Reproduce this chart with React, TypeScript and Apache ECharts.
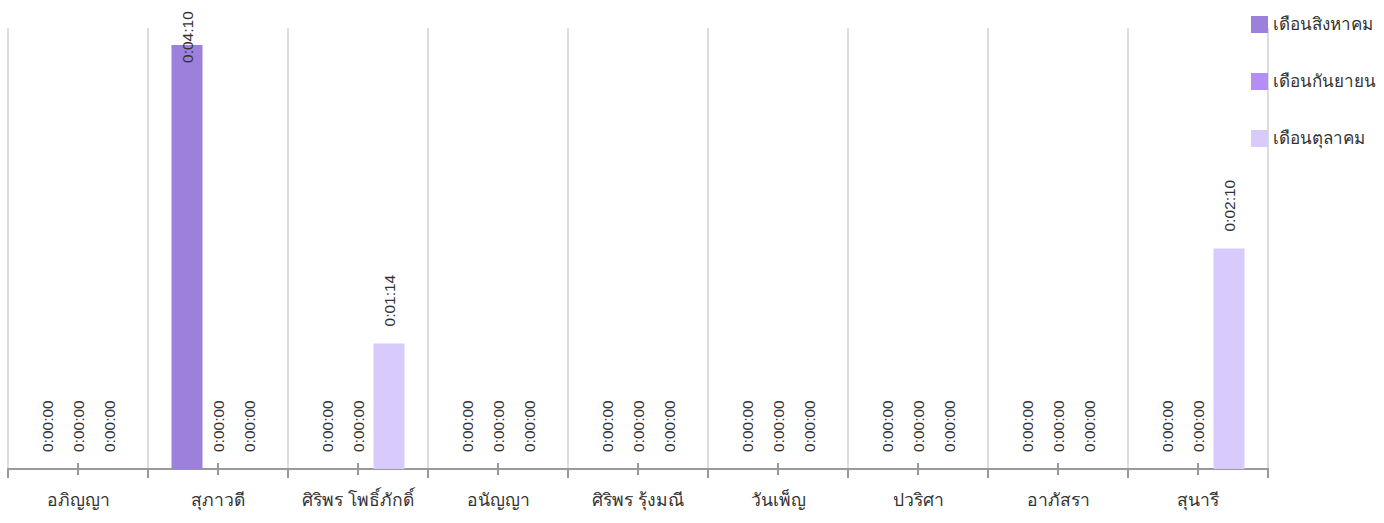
import React, { useEffect, useRef } from "react";
import * as echarts from "echarts";

const categories = [
  "อภิญญา",
  "สุภาวดี",
  "ศิริพร โพธิ์ภักดิ์",
  "อนัญญา",
  "ศิริพร รุ้งมณี",
  "วันเพ็ญ",
  "ปวริศา",
  "อาภัสรา",
  "สุนารี",
];

const seriesNames = ["เดือนสิงหาคม", "เดือนกันยายน", "เดือนตุลาคม"];
// values in seconds
const augustValues = [0, 250, 0, 0, 0, 0, 0, 0, 0];
const septemberValues = [0, 0, 0, 0, 0, 0, 0, 0, 0];
const octoberValues = [0, 0, 74, 0, 0, 0, 0, 0, 130];
const colors = ["#9c80dc", "#b48ef6", "#d9cafc"];
const yMax = 260;

function fmt(sec: number): string {
  const h = Math.floor(sec / 3600);
  const m = Math.floor((sec % 3600) / 60);
  const s = Math.floor(sec % 60);
  return `${h}:${String(m).padStart(2, "0")}:${String(s).padStart(2, "0")}`;
}

const FONT = "'Liberation Sans', Arial, 'DejaVu Sans', sans-serif";

export default function App() {
  const ref = useRef<HTMLDivElement>(null);
  useEffect(() => {
    if (!ref.current) return;
    const chart = echarts.init(ref.current, undefined, { renderer: "svg" });
    const allValues = [augustValues, septemberValues, octoberValues];
    const series = allValues.map((vals, i) => ({
      name: seriesNames[i],
      type: "bar",
      xAxisIndex: 0,
      barWidth: 31,
      barGap: "0%",
      itemStyle: { color: colors[i] },
      label: {
        show: true,
        position: "top",
        distance: 17,
        rotate: 90,
        align: "left",
        verticalAlign: "middle",
        fontSize: 15.5,
        fontFamily: FONT,
        color: "#333",
        formatter: (p: any) => fmt(p.value),
      },
      data: vals.map((v) =>
        v > yMax * 0.85
          ? { value: v, label: { position: "insideTop", distance: 18 } }
          : v
      ),
    }));
    chart.setOption({
      animation: false,
      color: colors,
      textStyle: { fontFamily: FONT },
      legend: {
        orient: "vertical",
        left: 1251,
        top: 16,
        padding: 0,
        icon: "rect",
        itemWidth: 17,
        itemHeight: 17,
        itemGap: 40,
        textStyle: { fontSize: 17, color: "#333", fontFamily: FONT },
        data: seriesNames,
      },
      grid: { left: 8, right: 116, top: 28, bottom: 54, containLabel: false },
      xAxis: [
        {
          type: "category",
          data: categories,
          axisLine: { lineStyle: { color: "#999", width: 2 } },
          axisTick: { show: true, interval: 0, length: 9, lineStyle: { color: "#999", width: 2 } },
          splitLine: { show: true, interval: 0, lineStyle: { color: "#dcdcdc", width: 2 } },
          axisLabel: { interval: 0, fontSize: 17.5, color: "#333", margin: 22, fontFamily: FONT },
        },
        {
          type: "category",
          data: categories,
          position: "bottom",
          offset: -6,
          axisLine: { show: false },
          axisTick: {
            show: true,
            interval: 0,
            alignWithLabel: true,
            length: 12,
            lineStyle: { color: "#999", width: 2 },
          },
          axisLabel: { show: false, interval: 0 },
          splitLine: { show: false },
        },
      ],
      yAxis: { type: "value", show: false, min: 0, max: yMax, splitLine: { show: false } },
      series,
    });
    return () => chart.dispose();
  }, []);
  return (
    <div
      ref={ref}
      style={{ position: "absolute", left: 0, top: 0, width: 1384, height: 523 }}
    />
  );
}
